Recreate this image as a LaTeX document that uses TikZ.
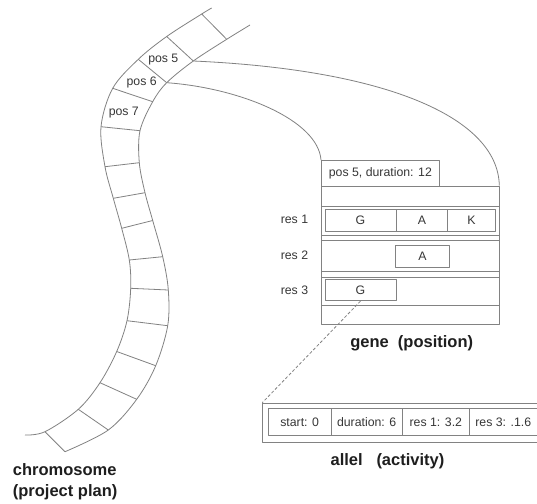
\documentclass[tikz,border=0pt]{standalone}
\usepackage{fontspec}
\setmainfont{Liberation Sans}
\begin{document}
\definecolor{linegray}{RGB}{130,130,130}
\definecolor{txtgray}{RGB}{55,55,55}
\definecolor{titlegray}{RGB}{30,30,30}
\tikzset{
  ln/.style={draw=linegray, line width=0.8pt},
  lbl/.style={inner sep=0pt, text=txtgray, font=\fontsize{12.3}{14}\selectfont},
  title/.style={inner sep=0pt, text=titlegray, font=\fontsize{16.5}{20.6}\selectfont\bfseries},
  cell/.style={ln, rectangle, inner sep=0pt, text=txtgray, font=\fontsize{12.3}{14}\selectfont},
  band/.style={ln, rectangle, inner sep=0pt, minimum width=177.5},
}
\begin{tikzpicture}[x=1pt, y=-1pt, line join=round]
\useasboundingbox (0,0) rectangle (537,503);
\clip (0,0) rectangle (537,503);
\fill[white] (0,0) rectangle (537,503);

% ---------- chromosome: two rails ----------
\foreach \i/\p in {0/{211.7,8},1/{201.7,14},2/{166.7,36.5},3/{138.3,59.3},4/{112.7,88.3},
  5/{101,126.7},6/{105,166.7},7/{113.3,198.3},8/{121.7,228.3},9/{129.3,260},10/{130.7,288.3},
  11/{127,320.7},12/{116.7,351.5},13/{100,382.7},14/{78.3,409.3},15/{45,431.7},16/{25,435}}
  \coordinate (o\i) at (\p);
\foreach \i/\p in {0/{250,25},1/{226.7,39.3},2/{193.3,61},3/{166.7,82.7},4/{152.7,101.7},
  5/{140,130.7},6/{139.3,162.7},7/{145,192.7},8/{152.7,220.5},9/{162.7,256.7},10/{168.3,290},
  11/{167.7,325.7},12/{155.7,365.7},13/{136.7,399.3},14/{108.3,430},15/{65,451.7}}
  \coordinate (n\i) at (\p);

\draw[ln] plot[smooth, tension=0.55] coordinates {(o0)(o1)(o2)(o3)(o4)(o5)(o6)(o7)(o8)(o9)(o10)(o11)(o12)(o13)(o14)(o15)(o16)};
\draw[ln] plot[smooth, tension=0.55] coordinates {(n0)(n1)(n2)(n3)(n4)(n5)(n6)(n7)(n8)(n9)(n10)(n11)(n12)(n13)(n14)(n15)};

% rungs between the rails
\foreach \k in {1,...,15} \draw[ln] (o\k) -- (n\k);

\node[lbl] (p5) at (163.3,59.3) {pos 5};
\node[lbl] (p6) at (141.7,82.7) {pos 6};
\node[lbl] (p7) at (123.8,112.7) {pos 7};

\node[title, align=left, anchor=west] (chrom) at (12.7,482) {chromosome\\(project plan)};

% ---------- gene ----------
\node[cell, minimum width=118, minimum height=25.7, anchor=north west] (head) at (321,160) {pos 5, duration: 12};
\node[ln, rectangle, inner sep=0pt, minimum width=177.5, minimum height=138.3, anchor=north west] (gene) at (321,185.7) {};
\coordinate (gtr) at (gene.north east);

% horizontal bands inside the gene
\node[band, minimum height=29, anchor=north west] (r1) at (321,205.5) {};
\node[band, minimum height=31, anchor=north west] (r2) at (321,239.5) {};
\node[band, minimum height=28, anchor=north west] (r3) at (321,276.6) {};

% resource rows
\node[cell, minimum width=71, minimum height=21.7] (g1) at (360.5,220.2) {G};
\node[cell, minimum width=51.7, minimum height=21.7] (a1) at (421.85,220.2) {A};
\node[cell, minimum width=47.3, minimum height=21.7] (k1) at (471.35,220.2) {K};
\node[cell, minimum width=53.6, minimum height=22.7] (a2) at (422.5,256.3) {A};
\node[cell, minimum width=71, minimum height=21.4] (g3) at (360.5,290) {G};

\node[lbl, anchor=east] (res1) at (308.3,219.5) {res 1};
\node[lbl, anchor=east] (res2) at (308.3,255.5) {res 2};
\node[lbl, anchor=east] (res3) at (308.3,290.5) {res 3};

\node[title] (genelbl) at (411.7,343.3) {gene~~(position)};

% ---------- links from the chromosome to the gene ----------
\draw[ln] (n2) .. controls (393.3,70) and (498.3,120) .. (gtr);
\draw[ln] (n3) .. controls (240,88) and (318,120) .. (head.north west);

% ---------- allel ----------
\node[ln, rectangle, inner sep=0pt, minimum width=290, minimum height=39.5, anchor=north west] (allel) at (262.3,402.7) {};
\node[cell, minimum width=62.7, minimum height=26.9] (c1) at (299.65,422.3) {start: 0};
\node[cell, minimum width=71.3, minimum height=26.9] (c2) at (366.65,422.3) {duration: 6};
\node[cell, minimum width=67, minimum height=26.9] (c3) at (435.8,422.3) {res 1: 3.2};
\node[cell, minimum width=69, minimum height=26.9, anchor=west] (c4) at (469.3,422.3) {};
\node[lbl] (c4t) at (503.3,422.3) {res 3: .1.6};

\node[title] (allellbl) at (387.5,461.7) {allel~~~(activity)};

\draw[ln, dash pattern=on 3pt off 2pt] (g3.south) -- (allel.north west);
\end{tikzpicture}
\end{document}
